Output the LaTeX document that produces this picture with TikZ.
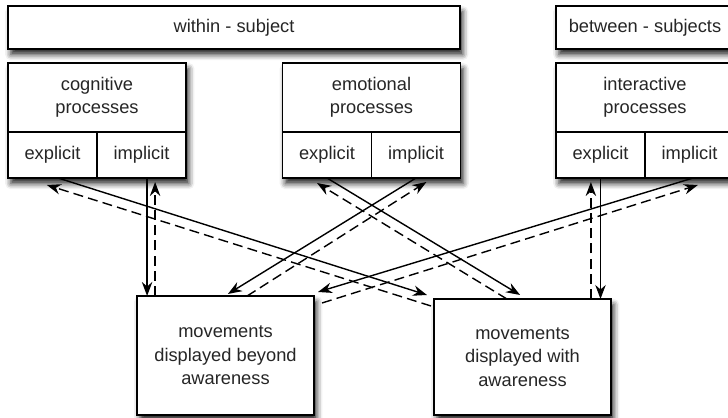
\documentclass[tikz,border=0pt]{standalone}
\usepackage{fontspec}
\setmainfont{Liberation Sans}
\usetikzlibrary{arrows.meta, positioning, backgrounds, shadows.blur}

\tikzset{
  box/.style={
    rectangle, draw=black, fill=white, line width=1pt,
    inner sep=2pt, outer sep=0pt, text centered, align=center,
    text=black!85, font=\fontsize{13}{16.7}\selectfont
  },
  bar/.style={box, minimum height=1.075cm},
  procbox/.style={box, minimum width=4.45cm, minimum height=1.725cm},
  subbox/.style={box, minimum width=2.225cm, minimum height=1.15cm},
  movebox/.style={box, minimum width=4.425cm, minimum height=2.975cm},
  boxshadow/.style={
    fill=white,
    blur shadow={shadow xshift=2pt, shadow yshift=-4pt,
      shadow blur radius=4pt, shadow opacity=85}
  },
  arrow/.style={
    line width=1pt,
    -{Stealth[length=3.5mm,width=2.6mm]}
  },
  dasharrow/.style={arrow, dash pattern=on 2.5mm off 1.3mm}
}

\begin{document}
\begin{tikzpicture}

\useasboundingbox (0,0) rectangle (18.2,10.45);

% ------------------------------------------------
% TOP ROW - level of analysis
% ------------------------------------------------

\node[bar, minimum width=11.3cm] (within) at (5.85,9.7625) {within - subject};
\node[bar, minimum width=4.45cm] (between) at (16.125,9.7625) {between - subjects};

% ------------------------------------------------
% SECOND ROW - processes
% ------------------------------------------------

\node[procbox] (cog) at (2.425,8.0125) {cognitive\\processes};
\node[subbox, below right=0pt and 0pt of cog.south west] (cogexp) {explicit};
\node[subbox, right=0pt of cogexp] (cogimp) {implicit};

\node[procbox] (emo) at (9.2875,8.0125) {emotional\\processes};
\node[subbox, below right=0pt and 0pt of emo.south west] (emoexp) {explicit};
\node[subbox, right=0pt of emoexp] (emoimp) {implicit};

\node[procbox] (int) at (16.125,8.0125) {interactive\\processes};
\node[subbox, below right=0pt and 0pt of int.south west] (intexp) {explicit};
\node[subbox, right=0pt of intexp] (intimp) {implicit};

% ------------------------------------------------
% BOTTOM ROW - movements
% ------------------------------------------------

\node[movebox] (beyond) at (5.6375,1.5625) {movements\\displayed beyond\\awareness};
\node[movebox, minimum height=2.9cm] (aware) at (13.0625,1.525) {movements\\displayed with\\awareness};

% shadows
\begin{scope}[on background layer]
  \path[boxshadow] (within.north west) rectangle (within.south east);
  \path[boxshadow] (between.north west) rectangle (between.south east);
  \path[boxshadow] (cog.north west) rectangle (cogimp.south east);
  \path[boxshadow] (emo.north west) rectangle (emoimp.south east);
  \path[boxshadow] (int.north west) rectangle (intimp.south east);
  \path[boxshadow] (beyond.north west) rectangle (beyond.south east);
  \path[boxshadow] (aware.north west) rectangle (aware.south east);
\end{scope}

% ------------------------------------------------
% VERTICAL ARROWS
% ------------------------------------------------

\draw[arrow] ([xshift=0.14cm]cogimp.south) -- ([xshift=0.14cm]cogimp.south |- beyond.north);
\draw[dasharrow] ([xshift=0.34cm]cogimp.south |- beyond.north) -- ([xshift=0.34cm,yshift=-0.1cm]cogimp.south);

\draw[arrow] (intexp.south) -- (intexp.south |- aware.north);
\draw[dasharrow] ([xshift=-0.24cm]intexp.south |- aware.north) -- ([xshift=-0.24cm,yshift=-0.1cm]intexp.south);

% ------------------------------------------------
% CROSSING ARROWS
% ------------------------------------------------

\draw[arrow] ([xshift=0.14cm]cogexp.south) -- ([xshift=-0.175cm,yshift=0.1cm]aware.north west);
\draw[dasharrow] ([xshift=-0.075cm,yshift=-0.175cm]aware.north west) -- ([xshift=-0.14cm,yshift=-0.175cm]cogexp.south);

\draw[arrow] (emoexp.south) -- ([xshift=-0.06cm,yshift=0.1cm]aware.north);
\draw[dasharrow] ([xshift=-0.39cm]aware.north) -- ([xshift=-0.25cm,yshift=-0.125cm]emoexp.south);

\draw[arrow] (emoimp.south) -- ([xshift=0.06cm,yshift=0.05cm]beyond.north);
\draw[dasharrow] ([xshift=0.54cm]beyond.north) -- ([xshift=0.26cm,yshift=-0.1cm]emoimp.south);

\draw[arrow] ([xshift=0.09cm]intimp.south) -- ([xshift=0.1cm,yshift=0.1cm]beyond.north east);
\draw[dasharrow] ([xshift=0.2cm,yshift=-0.175cm]beyond.north east) -- ([xshift=0.21cm,yshift=-0.175cm]intimp.south);

\end{tikzpicture}
\end{document}
